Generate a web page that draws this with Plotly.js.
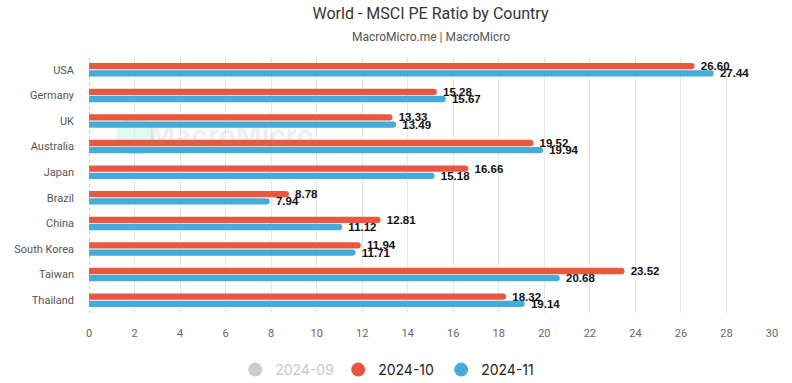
<!DOCTYPE html>
<html>
<head>
<meta charset="utf-8">
<script src="https://cdn.plot.ly/plotly-3.0.1.min.js"></script>
<style>
html,body{margin:0;padding:0;background:#fff;}
#chart{width:792px;height:383px;}
#fade{position:absolute;left:0;top:340px;width:792px;height:43px;background:linear-gradient(#fff,#f6f6f6);z-index:-1;}
</style>
</head>
<body>
<div id="fade"></div>
<div id="chart"></div>
<script>
const countries = ["USA","Germany","UK","Australia","Japan","Brazil","China","South Korea","Taiwan","Thailand"];
const oct2024 = [26.60,15.28,13.33,19.52,16.66,8.78,12.81,11.94,23.52,18.32];
const nov2024 = [27.44,15.67,13.49,19.94,15.18,7.94,11.12,11.71,20.68,19.14];
const sep2024 = countries.map(() => null); // hidden in the reference, values not shown
const seriesNames = ["2024-09","2024-10","2024-11"];
const colors = ["#cccccc","#e9573f","#43acdb"];
const xTicks = [0,2,4,6,8,10,12,14,16,18,20,22,24,26,28,30];

const labelFont = {family:"Liberation Sans, Arial, sans-serif", size:11.5, color:"#111", weight:"bold"};

function barTrace(name, vals, color, vis){
  return {
    type:"bar", orientation:"h", name:name, y:countries, x:vals,
    marker:{color:color}, visible:vis, showlegend:false,
    text:vals.map(v => v==null ? "" : "\u00a0" + v.toFixed(2)),
    textposition:"outside", cliponaxis:false, constraintext:"none",
    textfont:labelFont, hoverinfo:"x+name"
  };
}
function legendTrace(name, color, vis){
  return {
    type:"scatter", mode:"markers", name:name, x:[null], y:[null],
    marker:{color:color, size:14, symbol:"circle"}, visible:vis, showlegend:true
  };
}

const data = [
  barTrace(seriesNames[0], sep2024, colors[0], "legendonly"),
  barTrace(seriesNames[1], oct2024, colors[1], true),
  barTrace(seriesNames[2], nov2024, colors[2], true),
  legendTrace(seriesNames[0], colors[0], true),
  legendTrace(seriesNames[1], colors[1], true),
  legendTrace(seriesNames[2], colors[2], true)
];

const layout = {
  width:792, height:383,
  margin:{l:89, r:20, t:57, b:70, autoexpand:false},
  paper_bgcolor:"rgba(0,0,0,0)", plot_bgcolor:"rgba(0,0,0,0)",
  title:{text:"World - MSCI PE Ratio by Country", x:0.5, xref:"paper", y:0.965, yanchor:"middle",
         font:{family:"Roboto, sans-serif", size:16, color:"#333"}},
  annotations:[
    {text:"MacroMicro.me | MacroMicro", xref:"paper", yref:"paper", x:0.5, y:1.078, yanchor:"middle",
     showarrow:false, font:{family:"Roboto, sans-serif", size:12, color:"#555"}},
    {text:"<b>MacroMicro</b>", xref:"paper", yref:"paper", x:0.085, y:0.69, xanchor:"left", yanchor:"middle",
     showarrow:false, font:{family:"Inter, sans-serif", size:28, color:"rgba(150,150,150,0.16)"}}
  ],
  shapes:[
    {type:"line", xref:"x", yref:"paper", x0:0, x1:0, y0:0, y1:1, line:{color:"#999", width:1, dash:"3px,3px"}},
    {type:"circle", xref:"paper", yref:"paper", x0:0.04, x1:0.095, y0:0.615, y1:0.765,
     fillcolor:"rgba(60,220,180,0.16)", line:{width:0}, layer:"below"}
  ],
  barmode:"group", bargap:0.44, bargroupgap:0.12, barcornerradius:3,
  xaxis:{range:[0,30], tickvals:xTicks, showgrid:true, gridcolor:"#e6e6e6", gridwidth:1,
         zeroline:false, showline:false, ticks:"", ticklabelstandoff:12,
         tickfont:{family:"Roboto, sans-serif", size:11, color:"#666"}, fixedrange:true},
  yaxis:{autorange:"reversed", showgrid:false, zeroline:false, showline:false, ticks:"",
         ticklabelstandoff:14, tickfont:{family:"Roboto, sans-serif", size:11, color:"#555"}},
  legend:{orientation:"h", xref:"container", yref:"container", x:0.492, xanchor:"center", y:0.034, yanchor:"middle",
          entrywidth:58, entrywidthmode:"pixels",
          font:{family:"Inter, sans-serif", size:14, color:"#222"}, itemclick:false, itemdoubleclick:false},
  showlegend:true
};

Plotly.newPlot("chart", data, layout, {displayModeBar:false, staticPlot:true}).then(() => {
  const items = document.querySelectorAll(".legend .traces");
  if (items.length) {
    const t = items[0].querySelector("text");
    if (t) t.style.fill = "#c8c8c8";
  }
});
</script>
</body>
</html>
